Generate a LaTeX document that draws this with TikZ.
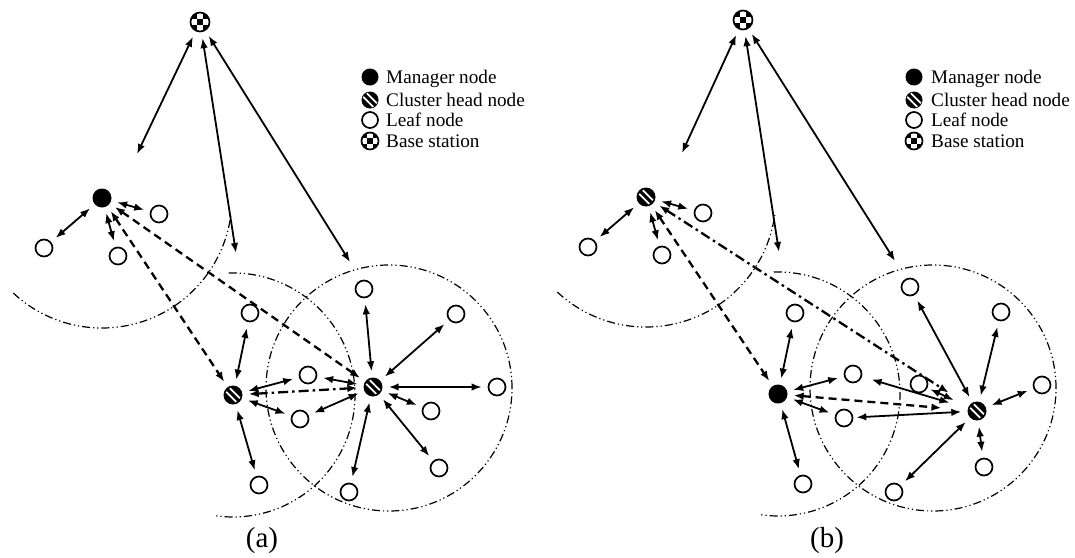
\documentclass[tikz,border=0pt]{standalone}
\usepackage{fontspec}
\setmainfont{Liberation Serif}
\usetikzlibrary{arrows.meta}
\newcommand\legfnt{\fontsize{19.2}{23}\selectfont}
\newcommand\capfnt{\fontsize{29}{33}\selectfont}
\begin{document}
\begin{tikzpicture}[x=1pt,y=1pt,
  leaf/.style={circle,draw=black,fill=white,line width=1.7pt,minimum size=17pt,inner sep=0pt},
  mgr/.style={circle,fill=black,minimum size=19pt,inner sep=0pt},
  chd/.style={circle,fill=black,minimum size=19pt,inner sep=0pt,path picture={
     \draw[white,line width=1.8pt] ([shift={(-3.2pt,6.8pt)}]path picture bounding box.center) -- ([shift={(6.8pt,-3.2pt)}]path picture bounding box.center);
     \draw[white,line width=1.8pt] ([shift={(-6.8pt,3.2pt)}]path picture bounding box.center) -- ([shift={(3.2pt,-6.8pt)}]path picture bounding box.center);}},
  bst/.style={circle,draw=black,line width=1.7pt,fill=white,minimum size=19pt,inner sep=0pt,path picture={
     \fill[black] ([shift={(-9.5pt,3pt)}]path picture bounding box.center) rectangle ++(6.5pt,6.5pt);
     \fill[black] ([shift={(3pt,3pt)}]path picture bounding box.center) rectangle ++(6.5pt,6.5pt);
     \fill[black] ([shift={(-3pt,-3pt)}]path picture bounding box.center) rectangle ++(6pt,6pt);
     \fill[black] ([shift={(-9.5pt,-9.5pt)}]path picture bounding box.center) rectangle ++(6.5pt,6.5pt);
     \fill[black] ([shift={(3pt,-9.5pt)}]path picture bounding box.center) rectangle ++(6.5pt,6.5pt);}},
  arr/.style={{Latex[length=10pt,width=7.5pt]}-{Latex[length=10pt,width=7.5pt]},line width=1.8pt,shorten <=6pt,shorten >=6pt},
  darr/.style={arr,line width=2.3pt,dash pattern=on 8pt off 5pt},
  ddarr/.style={arr,line width=2.3pt,dash pattern=on 10pt off 4pt on 2.5pt off 4pt},
  rng/.style={line width=1.2pt,dash pattern=on 8pt off 3pt on 1.2pt off 3pt on 1.2pt off 3pt},
  legt/.style={anchor=base west,inner sep=0pt,font=\legfnt}]
\useasboundingbox (0,0) rectangle (1075,-557);

% ---------------- panel (a) ----------------
\node[bst] (abs) at (200,-22) {};
\node[mgr] (am) at (102,-198) {};
\node[leaf] (al1) at (44,-248) {};
\node[leaf] (al2) at (118,-256) {};
\node[leaf] (al3) at (159,-214) {};
\node[chd] (ach1) at (233,-395) {};
\node[chd] (ach2) at (373,-387) {};
\node[leaf] (al4) at (250,-313) {};
\node[leaf] (al5) at (259,-485) {};
\node[leaf] (al6) at (308,-375) {};
\node[leaf] (al7) at (300,-419) {};
\node[leaf] (al8) at (364,-289) {};
\node[leaf] (al9) at (456,-314) {};
\node[leaf] (al10) at (497,-387) {};
\node[leaf] (al11) at (431,-411) {};
\node[leaf] (al12) at (439,-468) {};
\node[leaf] (al13) at (349,-492) {};
\coordinate (af1) at (137,-154);
\coordinate (af2) at (236,-253);
\coordinate (af3) at (350,-262);
\coordinate (arc) at (389,-388);

\draw[rng] (am.center) ++(227:130) arc[start angle=227,end angle=352,radius=130];
\draw[rng] (ach1.center) ++(92:122) arc[start angle=92,end angle=-99,radius=122];
\draw[rng] (arc) circle[radius=123];

\draw[arr,shorten >=0pt] (abs) -- (af1);
\draw[arr,shorten >=0pt] (abs) -- (af2);
\draw[arr,shorten >=0pt] (abs) -- (af3);
\draw[arr] (am) -- (al1);
\draw[arr] (am) -- (al2);
\draw[arr] (am) -- (al3);
\draw[darr] (am) -- (ach1);
\draw[darr] (am) -- (ach2);
\draw[arr] (ach1) -- (al4);
\draw[arr] (ach1) -- (al5);
\draw[arr] (ach1) -- (al6);
\draw[arr] (ach1) -- (al7);
\draw[ddarr] (ach1) -- (ach2);
\draw[arr] (ach2) -- (al6);
\draw[arr] (ach2) -- (al7);
\draw[arr] (ach2) -- (al8);
\draw[arr] (ach2) -- (al9);
\draw[arr] (ach2) -- (al10);
\draw[arr] (ach2) -- (al11);
\draw[arr] (ach2) -- (al12);
\draw[arr] (ach2) -- (al13);

\node[mgr,minimum size=17pt] (algm) at (370,-77) {};
\node[chd,minimum size=17pt] (algc) at (370,-100) {};
\node[leaf,minimum size=16pt] (algl) at (370,-120) {};
\node[bst,minimum size=17pt] (algb) at (370,-141) {};
\node[legt] (algmt) at (386,-83) {Manager node};
\node[legt] (algct) at (386,-106) {Cluster head node};
\node[legt] (alglt) at (386,-126) {Leaf node};
\node[legt] (algbt) at (386,-147) {Base station};
\node[font=\capfnt] (capa) at (262,-541) {(a)};

% ---------------- panel (b) ----------------
\node[bst] (bbs) at (743,-20) {};
\node[chd] (bcho) at (646,-197) {};
\node[leaf] (bl1) at (588,-247) {};
\node[leaf] (bl2) at (662,-255) {};
\node[leaf] (bl3) at (703,-213) {};
\node[mgr] (bm) at (778,-394) {};
\node[leaf] (bl4) at (795,-313) {};
\node[leaf] (bl5) at (803,-484) {};
\node[leaf] (bl6) at (853,-374) {};
\node[leaf] (bl7) at (844,-418) {};
\node[chd] (bchn) at (977,-411) {};
\node[leaf] (bl8) at (910,-287) {};
\node[leaf] (bl9) at (1001,-312) {};
\node[leaf] (bl10) at (1042,-385) {};
\node[leaf] (bl11) at (984,-467) {};
\node[leaf] (bl12) at (894,-492) {};
\node[leaf] (bl13) at (919,-384) {};
\coordinate (bf1) at (682,-153);
\coordinate (bf2) at (779,-252);
\coordinate (bf3) at (895,-261);
\coordinate (brc) at (933,-388);

\draw[rng] (bcho.center) ++(227:130) arc[start angle=227,end angle=352,radius=130];
\draw[rng] (bm.center) ++(92:122) arc[start angle=92,end angle=-99,radius=122];
\draw[rng] (brc) circle[radius=123];

\draw[arr,shorten >=0pt] (bbs) -- (bf1);
\draw[arr,shorten >=0pt] (bbs) -- (bf2);
\draw[arr,shorten >=0pt] (bbs) -- (bf3);
\draw[arr] (bcho) -- (bl1);
\draw[arr] (bcho) -- (bl2);
\draw[arr] (bcho) -- (bl3);
\draw[darr] (bcho) -- (bm);
\draw[ddarr,shorten >=24pt] (bcho) -- (bchn);
\draw[arr] (bm) -- (bl4);
\draw[arr] (bm) -- (bl5);
\draw[arr] (bm) -- (bl6);
\draw[arr] (bm) -- (bl7);
\draw[darr,shorten >=26pt] (bm) -- (bchn);
\draw[arr,shorten <=10pt,shorten >=19pt] (bl6) -- (bchn);
\draw[arr,shorten <=3pt,shorten >=16pt] (bl13) -- (bchn);
\draw[arr,shorten <=3pt] (bl7) -- (bchn);
\draw[arr] (bchn) -- (bl8);
\draw[arr] (bchn) -- (bl9);
\draw[arr] (bchn) -- (bl10);
\draw[arr] (bchn) -- (bl11);
\draw[arr] (bchn) -- (bl12);

\node[mgr,minimum size=17pt] (blgm) at (914,-77) {};
\node[chd,minimum size=17pt] (blgc) at (914,-100) {};
\node[leaf,minimum size=16pt] (blgl) at (914,-120) {};
\node[bst,minimum size=17pt] (blgb) at (914,-141) {};
\node[legt] (blgmt) at (931,-83) {Manager node};
\node[legt] (blgct) at (931,-106) {Cluster head node};
\node[legt] (blglt) at (931,-126) {Leaf node};
\node[legt] (blgbt) at (931,-147) {Base station};
\node[font=\capfnt] (capb) at (827,-541) {(b)};
\end{tikzpicture}
\end{document}
